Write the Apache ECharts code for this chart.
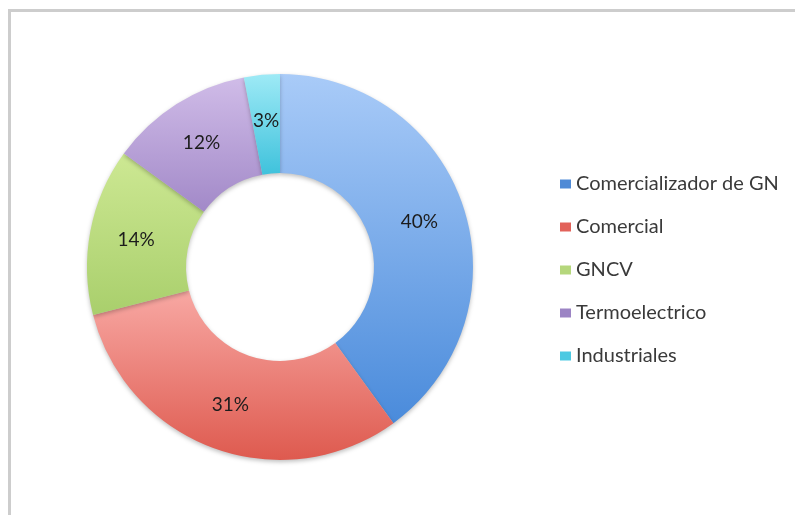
<!DOCTYPE html>
<html>
<head>
<meta charset="utf-8">
<script src="https://cdn.jsdelivr.net/npm/echarts@6/dist/echarts.min.js"></script>
<style>
  html, body { margin: 0; padding: 0; background: #fff; }
  #chart { position: absolute; left: 0; top: 0; width: 795px; height: 515px; }
  #frame {
    position: absolute; left: 8px; top: 9px; width: 800px; height: 520px;
    border-top: 3px solid #cdcdcd; border-left: 3px solid #cdcdcd;
    pointer-events: none;
  }
</style>
</head>
<body>
<div id="chart"></div>
<div id="frame"></div>
<script>
// segments, clockwise from 12 o'clock
const categories = ["Comercializador de GN", "Comercial", "GNCV", "Termoelectrico", "Industriales"];
const shares = [40, 31, 14, 12, 3];

// light (top) / dark (bottom) shade of each slice, and legend swatch colour
const topColors = ["#a9cbf8", "#f8a8a3", "#cde893", "#d0bce8", "#9eeaf6"];
const bottomColors = ["#4a8bdb", "#de5a4f", "#a9cf6c", "#a289c8", "#3fc2dc"];
const swatchColors = ["#4f8ad6", "#e2625a", "#b5d77c", "#9c84c4", "#4cc9e2"];

const chart = echarts.init(document.getElementById("chart"));

const data = categories.map((name, i) => ({
  name,
  value: shares[i],
  itemStyle: {
    color: new echarts.graphic.LinearGradient(0, 0, 0, 1, [
      {offset: 0, color: topColors[i]},
      {offset: 1, color: bottomColors[i]},
    ]),
  },
}));

const option = {
  animation: false,
  legend: {
    orient: "vertical",
    left: 560,
    top: 174,
    padding: 0,
    itemWidth: 11,
    itemHeight: 9,
    itemGap: 23,
    icon: "rect",
    selectedMode: false,
    textStyle: {fontFamily: "Lato", fontSize: 20, color: "#3a3a3a", lineHeight: 20},
    data: categories.map((name, i) => ({name, itemStyle: {color: swatchColors[i]}})),
  },
  series: [
    {
      type: "pie",
      center: [280, 267],
      radius: [94, 193],
      startAngle: 90,
      clockwise: true,
      silent: true,
      itemStyle: {
        shadowBlur: 4,
        shadowOffsetY: 2,
        shadowColor: "rgba(0,0,0,0.25)",
      },
      label: {
        show: true,
        position: "inside",
        formatter: (p) => p.value + "%",
        fontFamily: "Lato",
        fontSize: 19,
        color: "#1c1c1c",
      },
      labelLine: {show: false},
      data: data,
    },
  ],
};

chart.setOption(option);
</script>
</body>
</html>
